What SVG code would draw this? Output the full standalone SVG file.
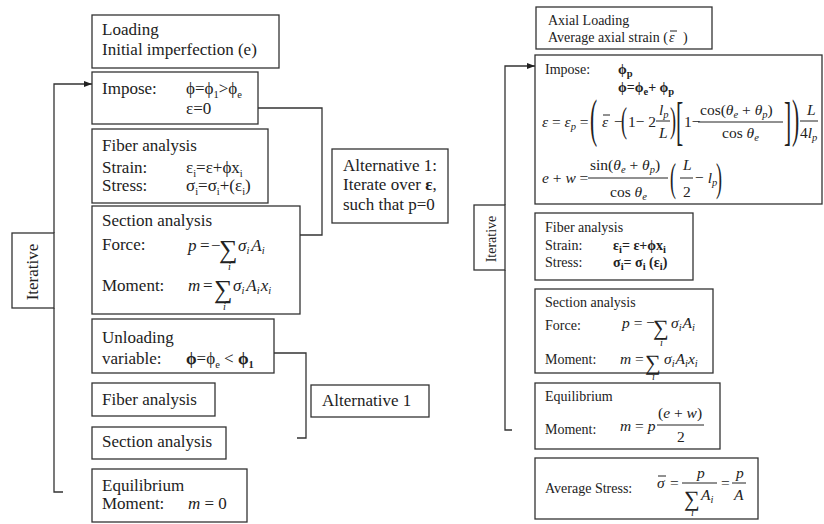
<svg xmlns="http://www.w3.org/2000/svg" width="824" height="524" viewBox="0 0 824 524">
<style>
.box{fill:#fff;stroke:#333;stroke-width:1.3}
.c{fill:none;stroke:#333;stroke-width:1.3}
.bar{stroke:#222;stroke-width:1}
text{font-family:"Liberation Serif","Times New Roman",serif;fill:#222}
.L{font-size:17px}
.R{font-size:14px}
.M{font-size:15.5px}
.i{font-style:italic}
.b{font-weight:bold}
.s{font-size:10.5px}
.d{font-size:24px}
.d2{font-size:20px}
.sumL{font-size:26px}
.sumR{font-size:22px}
</style>
<defs>
<marker id="arr" markerWidth="8" markerHeight="6" refX="8" refY="3" orient="auto" markerUnits="userSpaceOnUse">
<path d="M0,0 L8,3 L0,6 z" fill="#222"/>
</marker>
</defs>
<rect width="824" height="524" fill="#fff"/>

<g id="connectors">
<path class="c" d="M54 233 V84 H92" marker-end="url(#arr)"/>
<path class="c" d="M54 308 V492 H63"/>
<path class="c" d="M300 235 H322 V108 H250" marker-end="url(#arr)"/>
<path class="c" d="M297 438 H306 V353 H263" marker-end="url(#arr)"/>
<path class="c" d="M505 205 V66 H535" marker-end="url(#arr)"/>
<path class="c" d="M505 270 V430 H512"/>
</g>

<g id="iterative-left">
<rect class="box" x="12" y="233" width="42" height="75"/>
<text class="L" text-anchor="middle" transform="translate(38,272) rotate(-90)">Iterative</text>
</g>

<g id="loading">
<rect class="box" x="92" y="15" width="187" height="53"/>
<text class="L" x="102" y="35">Loading</text>
<text class="L" x="102" y="55">Initial imperfection (e)</text>
</g>

<g id="impose">
<rect class="box" x="92" y="72" width="166" height="52"/>
<text class="L" x="102" y="94">Impose:</text>
<text class="L" x="186" y="94">ϕ=ϕ<tspan class="s" dy="4">1</tspan><tspan dy="-4">&gt;ϕ</tspan><tspan class="s" dy="4">e</tspan></text>
<text class="L" x="186" y="114">ε=0</text>
</g>

<g id="fiber1">
<rect class="box" x="92" y="129" width="176" height="74"/>
<text class="L" x="102" y="151">Fiber analysis</text>
<text class="L" x="102" y="173">Strain:</text>
<text class="L" x="186" y="173">ε<tspan class="s" dy="4">i</tspan><tspan dy="-4">=ε+ϕx</tspan><tspan class="s" dy="4">i</tspan></text>
<text class="L" x="102" y="191">Stress:</text>
<text class="L" x="186" y="191">σ<tspan class="s" dy="4">i</tspan><tspan dy="-4">=σ</tspan><tspan class="s" dy="4">i</tspan><tspan dy="-4">+(ε</tspan><tspan class="s" dy="4">i</tspan><tspan dy="-4">)</tspan></text>
</g>

<g id="section1">
<rect class="box" x="92" y="206" width="208" height="108"/>
<text class="L" x="102" y="226">Section analysis</text>
<text class="L" x="102" y="250">Force:</text>
<text class="L i" x="188" y="251">p</text>
<text class="L" x="200" y="251">=</text>
<text class="L" x="211" y="251">−</text>
<text class="sumL" x="219" y="258">∑</text>
<text class="s i" x="228" y="270">i</text>
<text class="L i" x="238" y="251">σ<tspan class="s" dy="3">i</tspan><tspan dy="-3" dx="2">A</tspan><tspan class="s" dy="3">i</tspan></text>
<text class="L" x="102" y="291">Moment:</text>
<text class="L i" x="188" y="291">m</text>
<text class="L" x="203" y="291">=</text>
<text class="sumL" x="214" y="298">∑</text>
<text class="s i" x="223" y="310">i</text>
<text class="L i" x="233" y="291">σ<tspan class="s" dy="3">i</tspan><tspan dy="-3" dx="2">A</tspan><tspan class="s" dy="3">i</tspan><tspan dy="-3" dx="1">x</tspan><tspan class="s" dy="3">i</tspan></text>
</g>

<g id="alt1">
<rect class="box" x="332" y="149" width="116" height="74"/>
<text class="L" x="343" y="171">Alternative 1:</text>
<text class="L" x="343" y="190">Iterate over <tspan class="b">ε</tspan>,</text>
<text class="L" x="343" y="210">such that p=0</text>
</g>

<g id="unloading">
<rect class="box" x="92" y="319" width="182" height="54"/>
<text class="L" x="102" y="343">Unloading</text>
<text class="L" x="102" y="364">variable:</text>
<text class="L" x="186" y="364"><tspan class="b">ϕ</tspan>=ϕ<tspan class="s" dy="4">e</tspan><tspan dy="-4"> &lt; </tspan><tspan class="b">ϕ</tspan><tspan class="s b" dy="4">1</tspan></text>
</g>

<g id="alt1b">
<rect class="box" x="311" y="385" width="118" height="32"/>
<text class="L" x="322" y="406">Alternative 1</text>
</g>

<g id="fiber2">
<rect class="box" x="92" y="383" width="123" height="33"/>
<text class="L" x="102" y="405">Fiber analysis</text>
</g>

<g id="section2">
<rect class="box" x="92" y="427" width="134" height="32"/>
<text class="L" x="102" y="447">Section analysis</text>
</g>

<g id="equilibrium1">
<rect class="box" x="92" y="469" width="155" height="53"/>
<text class="L" x="102" y="491">Equilibrium</text>
<text class="L" x="102" y="509">Moment:</text>
<text class="L" x="188" y="509"><tspan class="i">m</tspan> = 0</text>
</g>

<g id="iterative-right">
<rect class="box" x="474" y="205" width="31" height="65"/>
<text class="R" text-anchor="middle" transform="translate(496,239) rotate(-90)">Iterative</text>
</g>

<g id="axial">
<rect class="box" x="536" y="7" width="176" height="42"/>
<text class="R" x="548" y="25">Axial Loading</text>
<text class="R" x="548" y="42">Average axial strain (</text>
<text class="R i" x="669" y="42">ε</text>
<line class="bar" x1="670" y1="31" x2="677" y2="31"/>
<text class="R" x="683" y="42">)</text>
</g>

<g id="impose2">
<rect class="box" x="535" y="55" width="287" height="149"/>
<text class="R" x="545" y="74">Impose:</text>
<text class="R b" x="618" y="74">ϕ<tspan class="s" dy="3">p</tspan></text>
<text class="R b" x="618" y="92">ϕ=ϕ<tspan class="s" dy="3">e</tspan><tspan dy="-3">+ ϕ</tspan><tspan class="s" dy="3">p</tspan></text>
<text class="M i" x="542" y="127">ε<tspan font-style="normal"> = </tspan>ε<tspan class="s" dy="3">p</tspan><tspan dy="-3" font-style="normal"> =</tspan></text>
<text class="d" transform="translate(590,136) scale(0.9,2.2)">(</text>
<text class="M i" x="602" y="127">ε</text>
<line class="bar" x1="603" y1="115" x2="610" y2="115"/>
<text class="M" x="614" y="127">−</text>
<text class="d2" transform="translate(621,132) scale(0.9,1.8)">(</text>
<text class="M" x="628" y="127">1− 2</text>
<text class="M i" x="659" y="115">l<tspan class="s" dy="3">p</tspan></text>
<line class="bar" x1="656" y1="121" x2="670" y2="121"/>
<text class="M i" x="659" y="138">L</text>
<text class="d2" transform="translate(670,132) scale(0.9,1.8)">)</text>
<text class="d" transform="translate(676,139) scale(0.9,2.2)">[</text>
<text class="M" x="684" y="127">1−</text>
<text class="M" x="700" y="115">cos(<tspan class="i">θ</tspan><tspan class="s i" dy="3">e</tspan><tspan dy="-3"> + </tspan><tspan class="i">θ</tspan><tspan class="s i" dy="3">p</tspan><tspan dy="-3">)</tspan></text>
<line class="bar" x1="698" y1="122" x2="783" y2="122"/>
<text class="M" x="722" y="138">cos <tspan class="i">θ</tspan><tspan class="s i" dy="3">e</tspan></text>
<text class="d" transform="translate(784,139) scale(0.9,2.2)">]</text>
<text class="d" transform="translate(792,136) scale(0.9,2.2)">)</text>
<text class="M i" x="807" y="115">L</text>
<line class="bar" x1="800" y1="121" x2="818" y2="121"/>
<text class="M" x="800" y="138">4<tspan class="i">l</tspan><tspan class="s i" dy="3">p</tspan></text>
<text class="M i" x="542" y="183">e<tspan font-style="normal"> + </tspan>w<tspan font-style="normal"> =</tspan></text>
<text class="M" x="590" y="170">sin(<tspan class="i">θ</tspan><tspan class="s i" dy="3">e</tspan><tspan dy="-3"> + </tspan><tspan class="i">θ</tspan><tspan class="s i" dy="3">p</tspan><tspan dy="-3">)</tspan></text>
<line class="bar" x1="588" y1="178" x2="668" y2="178"/>
<text class="M" x="610" y="197">cos <tspan class="i">θ</tspan><tspan class="s i" dy="3">e</tspan></text>
<text class="d2" transform="translate(670,191) scale(0.9,2.0)">(</text>
<text class="M i" x="683" y="170">L</text>
<line class="bar" x1="680" y1="178" x2="693" y2="178"/>
<text class="M" x="683" y="197">2</text>
<text class="M" x="695" y="183">− <tspan class="i">l</tspan><tspan class="s i" dy="3">p</tspan></text>
<text class="d2" transform="translate(716,191) scale(0.9,2.0)">)</text>
</g>

<g id="fiber3">
<rect class="box" x="535" y="213" width="158" height="67"/>
<text class="R" x="545" y="232">Fiber analysis</text>
<text class="R" x="545" y="250">Strain:</text>
<text class="R b" x="613" y="250">ε<tspan class="s" dy="3">i</tspan><tspan dy="-3">= ε+ϕx</tspan><tspan class="s" dy="3">i</tspan></text>
<text class="R" x="545" y="267">Stress:</text>
<text class="R b" x="613" y="267">σ<tspan class="s" dy="3">i</tspan><tspan dy="-3">= σ</tspan><tspan class="s" dy="3">i</tspan><tspan dy="-3"> (ε</tspan><tspan class="s" dy="3">i</tspan><tspan dy="-3">)</tspan></text>
</g>

<g id="section3">
<rect class="box" x="535" y="289" width="178" height="84"/>
<text class="R" x="545" y="307">Section analysis</text>
<text class="R" x="545" y="330">Force:</text>
<text class="M i" x="622" y="328">p<tspan font-style="normal"> = −</tspan></text>
<text class="sumR" x="653" y="335">∑</text>
<text class="s i" x="660" y="346">i</text>
<text class="M i" x="671" y="328">σ<tspan class="s" dy="3">i</tspan><tspan dy="-3" dx="1">A</tspan><tspan class="s" dy="3">i</tspan></text>
<text class="R" x="545" y="364">Moment:</text>
<text class="M i" x="620" y="364">m<tspan font-style="normal"> =</tspan></text>
<text class="sumR" x="645" y="370">∑</text>
<text class="s i" x="652" y="380">i</text>
<text class="M i" x="664" y="364">σ<tspan class="s" dy="3">i</tspan><tspan dy="-3" dx="1">A</tspan><tspan class="s" dy="3">i</tspan><tspan dy="-3">x</tspan><tspan class="s" dy="3">i</tspan></text>
</g>

<g id="equilibrium2">
<rect class="box" x="535" y="383" width="185" height="66"/>
<text class="R" x="545" y="401">Equilibrium</text>
<text class="R" x="545" y="434">Moment:</text>
<text class="M i" x="620" y="431">m<tspan font-style="normal"> = </tspan>p</text>
<text class="M" x="658" y="418">(<tspan class="i">e</tspan> + <tspan class="i">w</tspan>)</text>
<line class="bar" x1="657" y1="425" x2="704" y2="425"/>
<text class="M" x="677" y="442">2</text>
</g>

<g id="avgstress">
<rect class="box" x="535" y="458" width="223" height="61"/>
<text class="R" x="545" y="493">Average Stress:</text>
<text class="M i" x="657" y="488">σ</text>
<line class="bar" x1="658" y1="476" x2="666" y2="476"/>
<text class="M" x="670" y="488">=</text>
<text class="M i" x="697" y="478">p</text>
<line class="bar" x1="682" y1="483" x2="717" y2="483"/>
<text class="sumR" x="684" y="506">∑</text>
<text class="M i" x="701" y="500">A<tspan class="s" dy="3">i</tspan></text>
<text class="s i" x="691" y="516">i</text>
<text class="M" x="721" y="488">=</text>
<text class="M i" x="736" y="478">p</text>
<line class="bar" x1="732" y1="483" x2="746" y2="483"/>
<text class="M i" x="734" y="500">A</text>
</g>
</svg>
